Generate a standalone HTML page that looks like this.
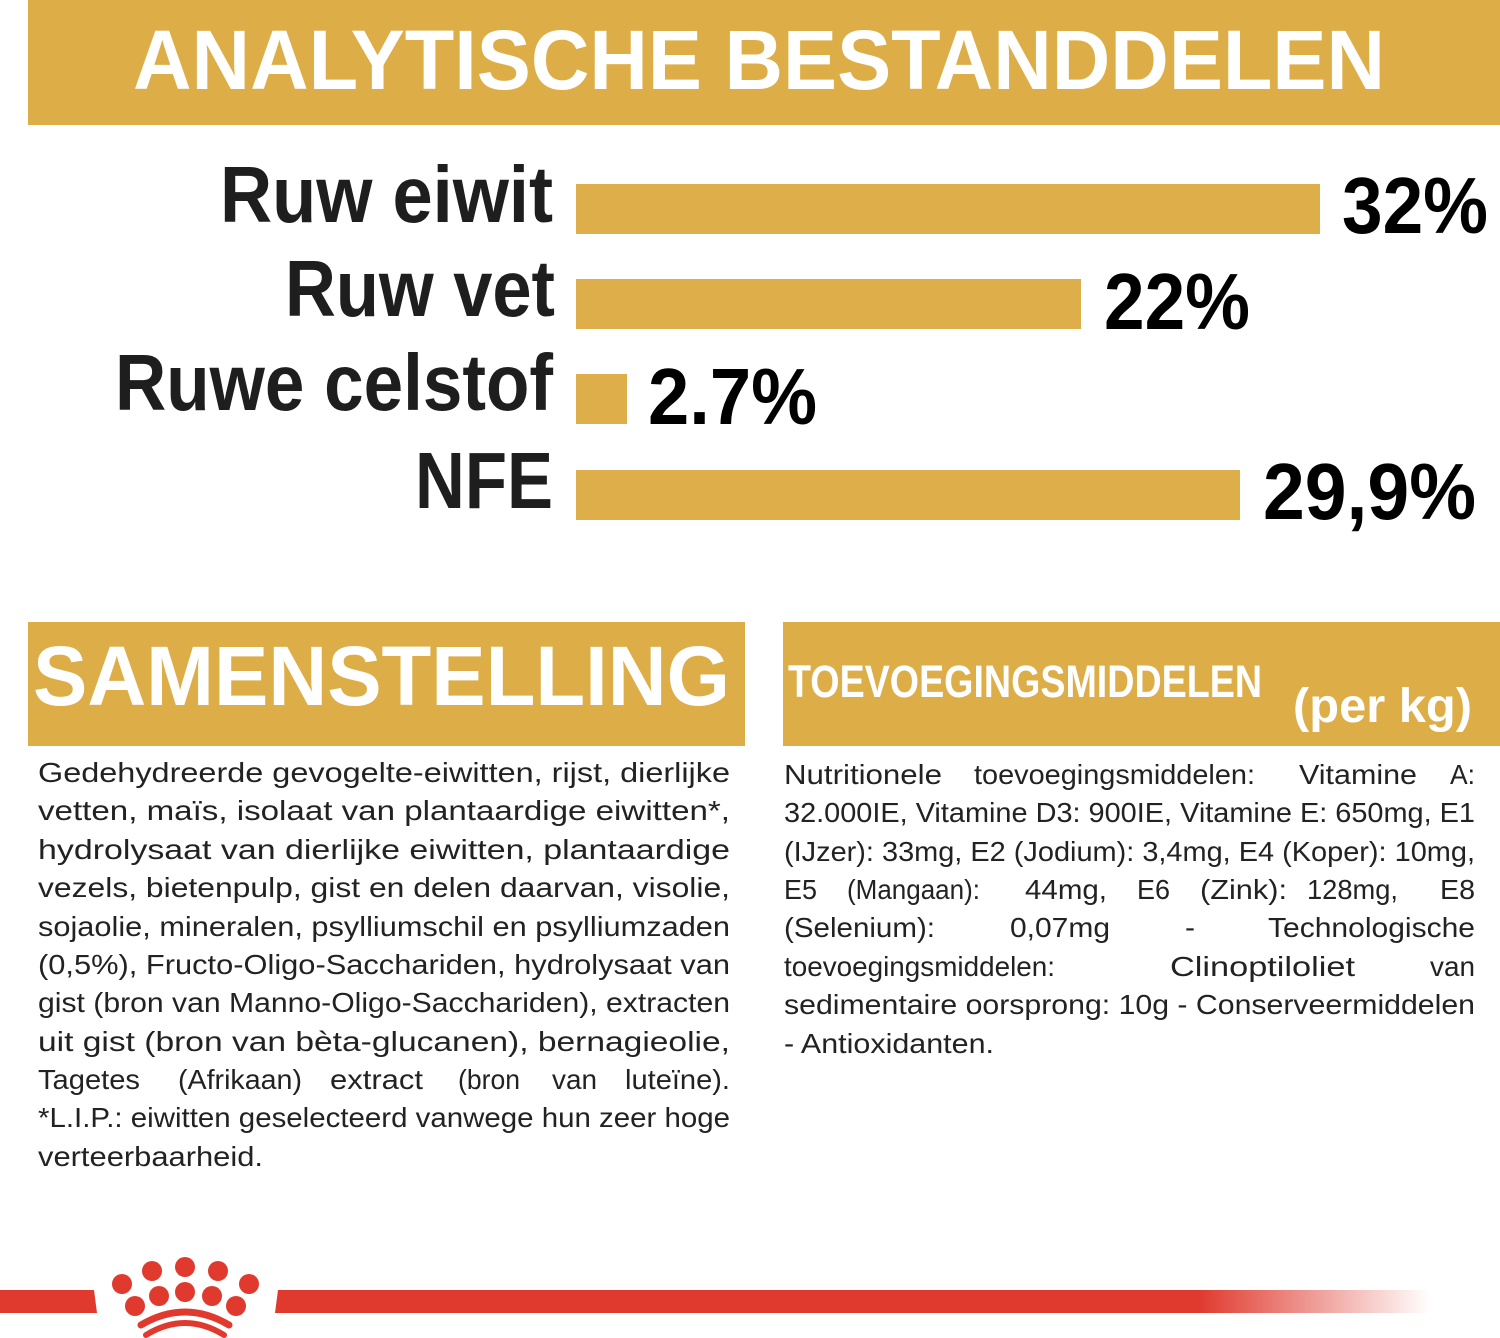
<!DOCTYPE html>
<html><head><meta charset="utf-8"><style>
html,body{margin:0;padding:0;background:#fff;width:1500px;height:1338px;overflow:hidden}
svg{display:block}
.h{font-family:"Liberation Sans",sans-serif;font-weight:bold;fill:#fff}
.l{font-family:"Liberation Sans",sans-serif;font-weight:bold;fill:#1e1e1e}
.p{font-family:"Liberation Sans",sans-serif;font-weight:bold;fill:#000}
.b{font-family:"Liberation Sans",sans-serif;font-size:28px;fill:#222}
</style></head><body>
<svg width="1500" height="1338" viewBox="0 0 1500 1338" xmlns="http://www.w3.org/2000/svg">
<rect x="28" y="0" width="1472" height="125" fill="#DDAE48"/>
<text class="h" x="133" y="89" font-size="84" textLength="1252" lengthAdjust="spacingAndGlyphs">ANALYTISCHE BESTANDDELEN</text>

<g fill="#DDAE4A">
<rect x="576" y="184" width="744" height="50"/>
<rect x="576" y="279" width="505" height="50"/>
<rect x="576" y="374" width="51" height="50"/>
<rect x="576" y="470" width="664" height="50"/>
</g>
<text class="l" x="220" y="222" font-size="80" textLength="333" lengthAdjust="spacingAndGlyphs">Ruw eiwit</text>
<text class="l" x="285" y="316" font-size="80" textLength="270" lengthAdjust="spacingAndGlyphs">Ruw vet</text>
<text class="l" x="115" y="410" font-size="80" textLength="438" lengthAdjust="spacingAndGlyphs">Ruwe celstof</text>
<text class="l" x="415" y="508" font-size="80" textLength="138" lengthAdjust="spacingAndGlyphs">NFE</text>
<text class="p" x="1342" y="233" font-size="80" textLength="146" lengthAdjust="spacingAndGlyphs">32%</text>
<text class="p" x="1104" y="329" font-size="80" textLength="146" lengthAdjust="spacingAndGlyphs">22%</text>
<text class="p" x="648" y="424" font-size="80" textLength="169" lengthAdjust="spacingAndGlyphs">2.7%</text>
<text class="p" x="1263" y="519" font-size="80" textLength="213" lengthAdjust="spacingAndGlyphs">29,9%</text>

<rect x="28" y="622" width="717" height="124" fill="#DDAE48"/>
<text class="h" x="33" y="705" font-size="84" textLength="697" lengthAdjust="spacingAndGlyphs">SAMENSTELLING</text>
<rect x="783" y="622" width="717" height="124" fill="#DDAE48"/>
<text class="h" x="788" y="697" font-size="45" textLength="474" lengthAdjust="spacingAndGlyphs">TOEVOEGINGSMIDDELEN</text>
<text class="h" x="1293" y="722" font-size="48" textLength="179" lengthAdjust="spacingAndGlyphs">(per kg)</text>

<g class="b">
<text x="38" y="782" textLength="692" lengthAdjust="spacingAndGlyphs">Gedehydreerde gevogelte-eiwitten, rijst, dierlijke</text>
<text x="38" y="820" textLength="692" lengthAdjust="spacingAndGlyphs">vetten, maïs, isolaat van plantaardige eiwitten*,</text>
<text x="38" y="859" textLength="692" lengthAdjust="spacingAndGlyphs">hydrolysaat van dierlijke eiwitten, plantaardige</text>
<text x="38" y="897" textLength="692" lengthAdjust="spacingAndGlyphs">vezels, bietenpulp, gist en delen daarvan, visolie,</text>
<text x="38" y="936" textLength="692" lengthAdjust="spacingAndGlyphs">sojaolie, mineralen, psylliumschil en psylliumzaden</text>
<text x="38" y="974" textLength="692" lengthAdjust="spacingAndGlyphs">(0,5%), Fructo-Oligo-Sacchariden, hydrolysaat van</text>
<text x="38" y="1012" textLength="692" lengthAdjust="spacingAndGlyphs">gist (bron van Manno-Oligo-Sacchariden), extracten</text>
<text x="38" y="1051" textLength="692" lengthAdjust="spacingAndGlyphs">uit gist (bron van bèta-glucanen), bernagieolie,</text>
<text x="38" y="1089" textLength="102" lengthAdjust="spacingAndGlyphs">Tagetes</text>
<text x="178" y="1089" textLength="124" lengthAdjust="spacingAndGlyphs">(Afrikaan)</text>
<text x="330" y="1089" textLength="93" lengthAdjust="spacingAndGlyphs">extract</text>
<text x="458" y="1089" textLength="62" lengthAdjust="spacingAndGlyphs">(bron</text>
<text x="552" y="1089" textLength="45" lengthAdjust="spacingAndGlyphs">van</text>
<text x="625" y="1089" textLength="105" lengthAdjust="spacingAndGlyphs">luteïne).</text>
<text x="38" y="1127" textLength="692" lengthAdjust="spacingAndGlyphs">*L.I.P.: eiwitten geselecteerd vanwege hun zeer hoge</text>
<text x="38" y="1166" textLength="225" lengthAdjust="spacingAndGlyphs">verteerbaarheid.</text>

<text x="784" y="784" textLength="158" lengthAdjust="spacingAndGlyphs">Nutritionele</text>
<text x="974" y="784" textLength="281" lengthAdjust="spacingAndGlyphs">toevoegingsmiddelen:</text>
<text x="1299" y="784" textLength="118" lengthAdjust="spacingAndGlyphs">Vitamine</text>
<text x="1450" y="784" textLength="25" lengthAdjust="spacingAndGlyphs">A:</text>
<text x="784" y="822" textLength="691" lengthAdjust="spacingAndGlyphs">32.000IE, Vitamine D3: 900IE, Vitamine E: 650mg, E1</text>
<text x="784" y="861" textLength="691" lengthAdjust="spacingAndGlyphs">(IJzer): 33mg, E2 (Jodium): 3,4mg, E4 (Koper): 10mg,</text>
<text x="784" y="899" textLength="33" lengthAdjust="spacingAndGlyphs">E5</text>
<text x="847" y="899" textLength="133" lengthAdjust="spacingAndGlyphs">(Mangaan):</text>
<text x="1025" y="899" textLength="82" lengthAdjust="spacingAndGlyphs">44mg,</text>
<text x="1137" y="899" textLength="33" lengthAdjust="spacingAndGlyphs">E6</text>
<text x="1200" y="899" textLength="87" lengthAdjust="spacingAndGlyphs">(Zink):</text>
<text x="1307" y="899" textLength="91" lengthAdjust="spacingAndGlyphs">128mg,</text>
<text x="1440" y="899" textLength="35" lengthAdjust="spacingAndGlyphs">E8</text>
<text x="784" y="937" textLength="151" lengthAdjust="spacingAndGlyphs">(Selenium):</text>
<text x="1010" y="937" textLength="100" lengthAdjust="spacingAndGlyphs">0,07mg</text>
<text x="1185" y="937" textLength="10" lengthAdjust="spacingAndGlyphs">-</text>
<text x="1268" y="937" textLength="207" lengthAdjust="spacingAndGlyphs">Technologische</text>
<text x="784" y="976" textLength="271" lengthAdjust="spacingAndGlyphs">toevoegingsmiddelen:</text>
<text x="1170" y="976" textLength="185" lengthAdjust="spacingAndGlyphs">Clinoptiloliet</text>
<text x="1430" y="976" textLength="45" lengthAdjust="spacingAndGlyphs">van</text>
<text x="784" y="1014" textLength="691" lengthAdjust="spacingAndGlyphs">sedimentaire oorsprong: 10g - Conserveermiddelen</text>
<text x="784" y="1053" textLength="210" lengthAdjust="spacingAndGlyphs">- Antioxidanten.</text>
</g>

<defs><linearGradient id="fade" x1="0" x2="1"><stop offset="0" stop-color="#E03A2F"/><stop offset="0.8" stop-color="#E03A2F"/><stop offset="1" stop-color="#E03A2F" stop-opacity="0"/></linearGradient></defs>
<polygon points="0,1290 94,1290 97,1313 0,1313" fill="#E03A2F"/>
<polygon points="278,1290 1430,1290 1430,1313 275,1313" fill="url(#fade)"/>
<g fill="#E03A2F">
<circle cx="185" cy="1267" r="10"/>
<circle cx="152" cy="1271" r="10"/>
<circle cx="218" cy="1271" r="10"/>
<circle cx="122" cy="1284" r="10"/>
<circle cx="249" cy="1284" r="10"/>
<circle cx="135" cy="1306" r="10"/>
<circle cx="159" cy="1296" r="10"/>
<circle cx="185" cy="1292" r="10"/>
<circle cx="212" cy="1296" r="10"/>
<circle cx="236" cy="1306" r="10"/>
</g>
<path d="M141,1325 Q185,1299 229,1325" stroke="#E03A2F" stroke-width="7" fill="none" stroke-linecap="round"/>
<path d="M146,1335 Q185,1311 224,1335" stroke="#E03A2F" stroke-width="6" fill="none" stroke-linecap="round"/>
</svg>
</body></html>
